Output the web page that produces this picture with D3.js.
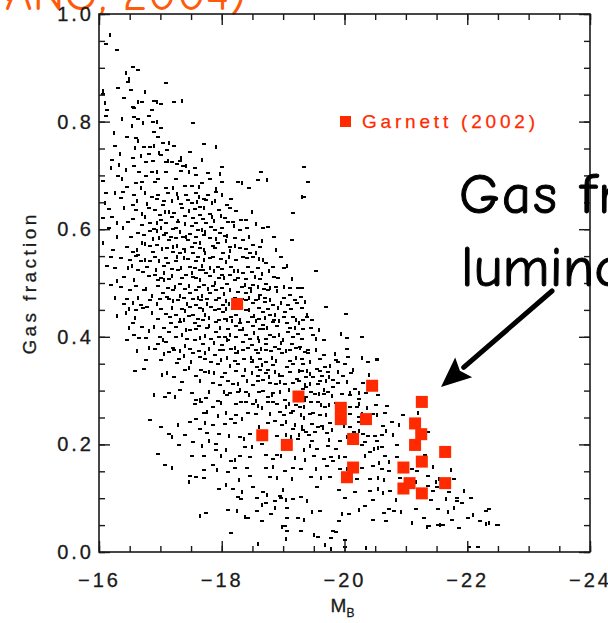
<!DOCTYPE html>
<html><head><meta charset="utf-8">
<script src="https://cdn.jsdelivr.net/npm/d3@7"></script>
<style>
html,body{margin:0;padding:0;background:#fff;overflow:hidden}
svg{display:block}
</style></head><body>
<svg id="c" width="608" height="623"></svg>
<script>
// Axis ticks
const xMajor = [-16, -18, -20, -22, -24];
const yMajor = [0, 0.2, 0.4, 0.6, 0.8, 1.0];

// Garnett (2002) spirals: absolute B magnitude and gas fraction
const garnettMB   = [-18.25, -19.25, -20.45, -19.94, -19.94, -20.35, -20.14, -18.66, -19.06, -20.14, -20.04,
                     -21.26, -21.15, -21.25, -21.15, -21.64, -21.26, -20.96, -21.06, -20.96, -21.26, -21.64];
const garnettFgas = [0.461, 0.289, 0.309, 0.268, 0.247, 0.247, 0.210, 0.217, 0.199, 0.157, 0.139,
                     0.279, 0.239, 0.219, 0.199, 0.186, 0.168, 0.157, 0.128, 0.118, 0.109, 0.128];

// Model galaxies: [M_B, gas fraction]
const sample = [
[-16.19,.963],[-16.11,.944],[-16.29,.933],[-16.44,.892],[-16.54,.901],[-16.62,.896],[-16.49,.881],[-16.47,.873],[-17.09,.871],
[-16.08,.858],[-16.05,.851],[-16.51,.858],[-16.11,.836],[-16.54,.828],[-16.57,.826],[-16.65,.838],[-16.69,.836],[-16.88,.838],
[-16.96,.838],[-17.00,.832],[-17.21,.836],[-17.36,.840],[-16.13,.821],[-16.11,.810],[-16.39,.806],[-16.57,.808],[-16.62,.804],
[-16.73,.800],[-16.80,.810],[-16.87,.799],[-16.96,.802],[-17.00,.789],[-16.88,.780],[-16.54,.793],[-17.53,.797],[-16.60,.769],
[-16.64,.765],[-17.04,.761],[-16.26,.754],[-16.60,.752],[-16.73,.752],[-16.83,.752],[-16.90,.756],[-17.21,.754],[-17.71,.759],
[-17.91,.754],[-17.47,.744],[-16.20,.729],[-16.34,.722],[-16.54,.733],[-16.57,.718],[-16.69,.737],[-16.75,.724],[-16.87,.726],
[-16.98,.743],[-17.00,.737],[-17.08,.724],[-17.14,.729],[-17.18,.724],[-17.26,.722],[-17.34,.735],[-17.31,.726],[-17.36,.718],
[-17.68,.731],[-17.99,.716],[-19.33,.715],[-16.20,.715],[-16.65,.707],[-16.85,.707],[-16.96,.709],[-17.09,.707],[-17.32,.709],
[-17.47,.709],[-17.57,.701],[-17.76,.705],[-17.98,.705],[-18.63,.707],[-19.40,.687],[-16.39,.696],[-16.60,.685],[-16.69,.687],
[-16.70,.679],[-16.96,.694],[-17.09,.677],[-17.22,.679],[-17.39,.681],[-17.50,.681],[-17.63,.681],[-17.67,.685],[-17.80,.694],
[-17.91,.677],[-17.99,.688],[-18.25,.688],[-18.33,.688],[-18.43,.677],[-18.58,.692],[-18.74,.694],[-16.44,.679],
[-16.30,.862],[-16.75,.857],[-16.40,.843],[-16.85,.822],[-16.25,.781],[-16.45,.772],[-16.95,.771],[-16.35,.741],[-16.80,.739],
[-17.10,.748],[-16.45,.711],[-16.76,.698],[-17.25,.694],[-17.42,.719],[-16.90,.688],[-17.55,.713],[-17.15,.763],[-16.30,.698],
[-16.11,.667],[-16.27,.670],[-16.38,.670],[-16.57,.664],[-16.76,.670],[-16.95,.664],[-17.12,.667],[-17.28,.668],[-17.41,.664],
[-17.57,.667],[-17.63,.661],[-17.77,.664],[-17.90,.670],[-18.02,.666],[-19.33,.660],
[-16.54,.645],[-16.79,.649],[-16.93,.656],[-17.03,.645],[-17.20,.655],[-17.33,.647],[-17.50,.649],[-17.61,.652],[-17.63,.642],
[-17.74,.655],[-17.90,.655],[-18.07,.645],[-19.16,.630],
[-16.71,.630],[-16.90,.636],[-16.98,.627],[-17.09,.633],[-17.22,.630],[-17.39,.624],[-17.47,.636],[-17.63,.627],[-17.80,.629],
[-17.99,.627],[-18.23,.633],[-18.39,.618],[-16.30,.614],[-16.46,.614],
[-16.82,.611],[-16.95,.614],[-17.09,.611],[-17.28,.614],[-17.41,.611],[-17.58,.611],[-17.74,.611],[-17.88,.618],[-18.10,.614],
[-18.18,.614],[-18.56,.611],
[-16.63,.593],[-16.82,.596],[-16.95,.599],[-17.09,.593],[-17.20,.600],[-17.33,.596],[-17.47,.591],[-17.61,.599],[-17.74,.596],
[-17.88,.599],[-17.96,.593],[-18.10,.590],[-18.29,.599],[-18.67,.602],[-16.98,.586],[-17.17,.586],[-17.36,.586],
[-16.76,.574],[-16.93,.571],[-17.14,.580],[-17.28,.571],[-17.44,.580],[-17.55,.574],[-17.66,.577],[-17.80,.583],[-17.93,.574],
[-18.07,.580],[-18.34,.580],[-18.50,.571],[-18.67,.580],[-19.13,.580],[-16.54,.558],[-16.71,.577],
[-16.63,.552],[-16.87,.558],[-17.03,.565],[-17.20,.558],[-17.31,.555],[-17.41,.562],[-17.52,.555],[-17.63,.565],[-17.74,.558],
[-17.88,.565],[-18.01,.555],[-18.15,.562],[-18.29,.565],[-18.45,.555],[-18.56,.558],[-16.19,.549],[-16.49,.543],
[-16.54,.534],[-16.68,.540],[-16.82,.540],[-16.98,.543],[-17.12,.537],[-17.25,.540],[-17.39,.549],[-17.47,.530],[-17.58,.540],
[-17.69,.534],[-17.80,.546],[-17.93,.530],[-18.07,.540],[-18.23,.543],[-18.34,.549],[-18.61,.546],[-18.72,.537],[-18.83,.530],
[-19.07,.534],
[-16.71,.521],[-16.90,.515],[-17.06,.521],[-17.28,.524],[-17.41,.515],[-17.52,.521],[-17.63,.524],[-17.74,.518],[-17.88,.524],
[-17.99,.515],[-18.12,.515],[-18.20,.524],[-18.34,.518],[-18.48,.521],[-18.67,.518],[-18.91,.509],
[-16.95,.506],[-17.06,.507],[-17.14,.507],[-17.31,.499],[-17.47,.496],[-17.58,.509],[-17.71,.496],[-17.90,.502],[-18.07,.499],
[-18.20,.506],[-18.39,.499],[-18.50,.496],[-18.72,.499],[-18.80,.493],[-19.10,.490],[-19.24,.490],
[-16.27,.474],[-16.49,.487],[-16.73,.487],[-16.87,.478],[-17.03,.481],[-17.20,.487],[-17.33,.478],[-17.47,.481],[-17.58,.487],
[-17.69,.478],[-17.80,.481],[-17.90,.487],[-18.04,.481],[-18.26,.484],[-18.39,.481],[-18.48,.487],[-18.61,.478],[-18.75,.487],
[-18.91,.487],[-19.10,.478],[-19.29,.474],
[-16.57,.465],[-16.68,.459],[-16.82,.468],[-16.95,.462],[-17.14,.471],[-17.28,.468],[-17.44,.462],[-17.58,.459],[-17.66,.468],
[-17.77,.462],[-17.90,.468],[-18.01,.459],[-18.12,.462],[-18.39,.468],[-18.50,.462],[-18.61,.474],[-18.69,.465],[-18.83,.459],
[-18.97,.465],[-19.07,.459],[-19.21,.462],
[-16.44,.446],[-16.60,.450],[-16.71,.453],[-16.87,.446],[-17.09,.443],[-17.25,.440],[-17.41,.450],[-17.52,.440],[-17.63,.453],
[-17.74,.443],[-17.88,.450],[-18.01,.446],[-18.10,.434],[-18.23,.440],[-18.39,.450],[-18.53,.440],[-18.67,.446],[-18.78,.440],
[-18.88,.443],[-19.02,.446],[-19.16,.437],[-19.27,.428],
[-17.17,.425],[-17.31,.428],[-17.39,.434],[-17.55,.425],[-17.69,.431],[-17.80,.422],[-17.90,.428],[-18.04,.434],[-18.18,.431],
[-18.29,.425],[-18.42,.428],[-18.56,.431],[-18.67,.422],[-18.83,.428],[-18.94,.431],[-19.05,.425],[-19.32,.415],[-16.49,.418],
[-16.57,.403],[-16.65,.397],[-16.82,.412],[-16.98,.400],[-17.14,.409],[-17.36,.406],[-17.47,.412],[-17.58,.415],[-17.74,.403],
[-17.90,.409],[-18.04,.400],[-18.15,.406],[-18.29,.412],[-18.39,.403],[-18.53,.409],[-18.67,.415],[-18.78,.403],[-18.94,.406],
[-19.07,.409],[-19.24,.406],
[-16.82,.381],[-16.95,.387],[-17.09,.390],[-17.41,.384],[-17.55,.394],[-17.69,.387],[-17.88,.390],[-17.99,.384],[-18.10,.394],
[-18.23,.381],[-18.34,.390],[-18.48,.384],[-18.61,.394],[-18.72,.387],[-18.86,.381],[-18.97,.390],[-19.13,.387],[-19.27,.381],
[-17.06,.369],[-17.14,.372],[-17.22,.375],[-17.39,.366],[-17.52,.369],[-17.63,.362],[-17.74,.372],[-17.88,.366],[-17.96,.375],
[-18.10,.362],[-18.23,.369],[-18.34,.375],[-18.48,.362],[-18.59,.369],[-18.72,.375],[-18.83,.362],[-18.97,.369],[-19.10,.375],
[-19.21,.362],[-19.35,.372],
[-16.73,.341],[-17.03,.330],[-17.21,.326],[-17.26,.351],[-17.47,.344],[-17.58,.328],[-17.66,.338],[-17.88,.335],[-17.93,.350],
[-17.99,.325],[-18.15,.347],[-18.26,.350],[-18.34,.328],[-18.39,.341],[-18.48,.353],[-18.56,.344],[-18.67,.350],[-18.75,.338],
[-18.83,.347],[-18.94,.331],[-19.05,.344],[-19.16,.350],[-19.27,.338],[-19.37,.325],[-18.59,.328],[-18.78,.328],[-18.97,.328],
[-19.21,.322],
[-16.90,.294],[-17.06,.289],[-17.14,.295],[-17.25,.290],[-17.31,.302],[-17.58,.283],[-17.66,.285],[-17.74,.287],[-17.96,.310],
[-18.04,.300],[-18.07,.291],[-18.18,.313],[-18.31,.303],[-18.39,.297],[-18.50,.310],[-18.56,.282],[-18.67,.300],[-18.75,.288],
[-18.83,.294],[-18.88,.313],[-19.02,.282],[-19.10,.303],[-19.32,.303],[-19.37,.288],[-18.42,.319],[-18.67,.319],[-19.02,.313],
[-19.37,.313],
[-16.82,.246],[-17.66,.279],[-17.77,.263],[-17.85,.269],[-17.93,.280],[-18.07,.260],[-18.15,.247],[-18.23,.254],[-18.34,.249],
[-18.39,.279],[-18.50,.275],[-18.67,.269],[-18.83,.279],[-18.94,.260],[-19.05,.272],[-19.16,.263],[-19.27,.269],[-19.35,.251],
[-17.47,.241],[-17.58,.247],[-17.74,.241],[-18.04,.238],[-18.86,.244],[-19.05,.244],
[-17.01,.232],[-17.14,.219],[-17.20,.216],[-17.52,.204],[-17.63,.229],[-17.80,.208],[-17.95,.219],[-18.29,.213],[-18.37,.212],
[-18.45,.219],[-19.16,.229],[-19.27,.219],[-19.24,.210],[-19.32,.226],[-19.13,.216],
[-16.95,.183],[-17.06,.162],[-17.69,.198],[-17.71,.179],[-17.90,.190],[-18.07,.191],[-18.29,.179],[-18.37,.196],[-18.23,.173],
[-18.72,.180],[-18.83,.172],[-18.97,.180],[-18.15,.170],
[-17.47,.142],[-17.48,.132],[-17.58,.139],[-17.71,.152],[-17.93,.154],[-18.10,.148],[-18.20,.156],[-18.29,.135],[-18.72,.157],
[-18.78,.139],[-18.91,.139],[-19.02,.151],[-19.29,.154],
[-18.07,.126],[-18.18,.117],[-18.26,.103],[-18.34,.114],[-18.56,.101],[-18.67,.111],[-18.75,.107],[-18.86,.095],[-18.94,.104],
[-19.05,.098],[-19.16,.099],[-19.29,.103],
[-17.66,.069],[-17.74,.073],[-18.10,.078],[-18.39,.067],[-18.42,.063],[-18.56,.076],[-18.67,.089],[-18.72,.092],[-18.80,.071],
[-18.88,.083],[-19.24,.064],[-18.15,.036],[-18.99,.048],[-19.29,.039],[-19.05,.064],
[-19.32,.661],[-19.53,.523],[-19.27,.490],[-19.36,.467],[-19.69,.455],[-20.02,.443],[-19.40,.442],[-19.32,.431],[-19.47,.432],
[-19.60,.414],[-19.48,.403],[-19.65,.394],[-19.95,.407],[-20.03,.397],[-20.27,.400],[-19.29,.381],[-19.40,.369],[-19.65,.366],
[-19.86,.369],[-20.03,.378],[-20.05,.362],[-20.30,.362],[-20.52,.359],
[-19.32,.350],[-19.40,.338],[-19.54,.341],[-19.67,.344],[-19.78,.347],[-19.89,.353],[-20.00,.350],[-20.14,.341],[-20.38,.353],
[-20.52,.356],[-20.41,.331],[-19.48,.325],[-19.62,.328],[-19.75,.328],[-19.97,.328],[-19.56,.313],[-19.70,.319],[-19.81,.319],
[-19.37,.307],[-19.67,.303],[-19.81,.307],[-20.16,.303],[-20.24,.297],[-19.51,.294],[-19.65,.294],[-19.81,.291],[-20.08,.291],
[-20.22,.285],[-19.37,.285],[-20.68,.272],[-20.54,.291],
[-19.35,.272],[-19.56,.279],[-19.67,.269],[-19.75,.275],[-20.08,.269],[-20.19,.269],[-20.38,.269],[-19.43,.257],[-19.59,.254],
[-19.70,.257],[-20.08,.257],[-20.22,.251],[-20.54,.257],[-20.76,.241],[-20.95,.254],[-21.20,.260],[-21.36,.223],[-20.22,.241],
[-19.32,.235],[-19.46,.238],[-19.56,.232],[-19.65,.232],[-19.37,.223],[-19.51,.223],[-19.81,.229],[-20.08,.232],[-20.14,.223],
[-20.24,.226],[-20.38,.216],[-20.49,.216],[-20.68,.226],[-19.92,.207],[-19.46,.207],[-19.75,.210],[-20.52,.207],[-20.33,.204],
[-19.35,.192],[-19.54,.192],[-19.86,.192],[-20.49,.193],[-20.60,.195],[-20.41,.185],[-19.92,.179],[-19.78,.176],[-19.81,.170],
[-19.37,.173],[-19.65,.173],[-20.65,.179],[-20.73,.170],[-20.27,.198],
[-19.29,.154],[-19.54,.157],[-19.92,.154],[-20.27,.157],[-20.57,.167],[-20.60,.154],[-20.71,.151],[-19.62,.139],[-19.75,.139],
[-20.41,.135],[-20.65,.135],[-21.09,.154],[-21.17,.151],[-21.74,.154],
[-20.16,.111],[-20.41,.114],[-20.63,.111],[-20.73,.113],[-20.90,.126],[-21.17,.132],[-21.36,.123],[-21.44,.114],[-21.50,.132],
[-21.77,.135],[-21.69,.111],[-21.66,.101],[-21.82,.101],[-21.82,.095],
[-19.48,.076],[-20.33,.086],[-20.06,.070],[-19.97,.073],[-20.63,.073],[-20.71,.080],[-20.93,.076],[-21.28,.064],[-21.52,.080],
[-21.80,.083],[-21.90,.092],[-22.01,.064],[-22.10,.070],[-22.29,.076],[-22.20,.058],
[-21.36,.048],[-21.52,.051],[-21.60,.051],[-22.37,.055],[-22.50,.051],[-19.81,.039],[-19.51,.033],[-21.85,.045],
[-18.14,.035],[-18.60,.017],[-19.02,.049],[-19.05,.039],[-19.05,.026],[-19.28,.039],[-19.56,.028],[-19.69,.015],[-19.77,.026],
[-19.85,.037],[-19.79,.008],[-20.00,.022],[-20.00,.010],[-20.36,.010],[-20.67,.058],[-21.37,.049],[-21.57,.052],[-22.02,.010],
[-22.17,.010],[-22.32,.054],[-22.48,.050],
// denser core of the distribution
[-16.35,.658],[-16.62,.655],[-16.85,.660],[-17.05,.653],[-17.30,.659],[-17.45,.654],[-17.70,.657],[-17.85,.651],[-18.15,.656],
[-16.15,.638],[-16.42,.641],[-16.60,.635],[-16.80,.639],[-17.15,.634],[-17.35,.640],[-17.55,.637],[-17.72,.642],[-17.95,.636],
[-18.12,.639],[-18.50,.634],
[-16.20,.622],[-16.55,.619],[-16.75,.624],[-17.00,.618],[-17.18,.623],[-17.30,.617],[-17.52,.621],[-17.68,.619],[-17.85,.625],
[-18.05,.620],[-18.30,.617],
[-16.40,.604],[-16.70,.607],[-16.88,.601],[-17.02,.605],[-17.25,.602],[-17.50,.606],[-17.68,.601],[-17.82,.605],[-18.00,.603],
[-18.20,.607],[-18.40,.602],[-18.75,.605],
[-16.30,.588],[-16.52,.585],[-16.72,.590],[-16.88,.584],[-17.05,.589],[-17.25,.583],[-17.42,.588],[-17.58,.585],[-17.70,.589],
[-17.92,.584],[-18.05,.588],[-18.20,.583],[-18.45,.588],[-18.85,.585],
[-16.45,.567],[-16.62,.563],[-16.82,.568],[-17.10,.565],[-17.22,.569],[-17.38,.563],[-17.50,.567],[-17.72,.564],[-17.85,.569],
[-18.12,.566],[-18.22,.570],[-18.38,.563],[-18.62,.567],[-18.90,.564],
[-16.35,.547],[-16.60,.550],[-16.76,.545],[-16.90,.549],[-17.08,.546],[-17.28,.551],[-17.45,.545],[-17.60,.548],[-17.72,.544],
[-17.85,.549],[-17.98,.545],[-18.12,.550],[-18.40,.546],[-18.50,.549],[-18.68,.544],[-18.95,.548],
[-16.25,.527],[-16.48,.530],[-16.62,.525],[-16.78,.529],[-16.93,.526],[-17.05,.531],[-17.18,.526],[-17.35,.529],[-17.55,.527],
[-17.68,.525],[-17.82,.530],[-18.00,.526],[-18.15,.529],[-18.28,.525],[-18.42,.530],[-18.58,.527],[-18.78,.524],[-19.00,.528],
[-16.40,.511],[-16.58,.508],[-16.80,.513],[-17.00,.510],[-17.20,.514],[-17.35,.509],[-17.52,.512],[-17.65,.508],[-17.80,.513],
[-17.95,.509],[-18.05,.512],[-18.25,.510],[-18.38,.508],[-18.55,.513],[-18.62,.507],[-18.85,.511],[-19.15,.509],
[-16.35,.492],[-16.60,.495],[-16.78,.490],[-16.95,.494],[-17.12,.491],[-17.25,.495],[-17.40,.489],[-17.62,.493],[-17.78,.490],
[-17.85,.494],[-18.00,.491],[-18.15,.489],[-18.32,.493],[-18.45,.491],[-18.60,.495],[-18.68,.489],[-18.88,.492],[-19.02,.495],
[-19.30,.490],
[-16.45,.471],[-16.65,.474],[-16.98,.470],[-17.10,.474],[-17.22,.469],[-17.38,.473],[-17.52,.470],[-17.62,.474],[-17.75,.471],
[-17.95,.473],[-18.08,.469],[-18.20,.472],[-18.32,.470],[-18.45,.474],[-18.55,.469],[-18.70,.472],[-18.80,.470],[-19.00,.473],
[-19.18,.469],
[-16.50,.453],[-16.78,.456],[-17.00,.452],[-17.20,.455],[-17.35,.451],[-17.48,.455],[-17.70,.452],[-17.82,.456],[-17.95,.451],
[-18.07,.454],[-18.18,.452],[-18.30,.456],[-18.45,.451],[-18.60,.454],[-18.75,.452],[-18.92,.455],[-19.12,.451],[-19.30,.454],
[-16.60,.436],[-16.95,.433],[-17.15,.437],[-17.32,.434],[-17.46,.438],[-17.60,.433],[-17.80,.436],[-17.95,.432],[-18.15,.437],
[-18.30,.434],[-18.48,.437],[-18.60,.433],[-18.72,.436],[-18.85,.432],[-19.00,.437],[-19.22,.433],[-19.38,.436],
[-16.70,.418],[-16.90,.421],[-17.05,.416],[-17.25,.419],[-17.42,.415],[-17.62,.420],[-17.75,.416],[-17.98,.419],[-18.10,.415],
[-18.22,.420],[-18.35,.417],[-18.50,.420],[-18.62,.415],[-18.75,.418],[-18.90,.421],[-19.10,.416],[-19.20,.419],[-19.45,.417],
[-16.75,.398],[-17.05,.395],[-17.25,.399],[-17.42,.396],[-17.65,.400],[-17.82,.396],[-17.95,.399],[-18.10,.395],[-18.22,.400],
[-18.45,.396],[-18.60,.399],[-18.72,.395],[-18.85,.399],[-19.00,.396],[-19.15,.400],[-19.30,.395],[-19.55,.398],
[-16.90,.377],[-17.20,.379],[-17.32,.375],[-17.48,.378],[-17.62,.374],[-17.80,.379],[-18.02,.375],[-18.15,.378],[-18.28,.374],
[-18.42,.379],[-18.55,.376],[-18.65,.379],[-18.80,.374],[-18.92,.378],[-19.05,.375],[-19.20,.379],[-19.40,.376],[-19.55,.378],
[-17.00,.357],[-17.30,.359],[-17.50,.355],[-17.72,.358],[-17.82,.354],[-18.00,.358],[-18.20,.355],[-18.35,.359],[-18.52,.356],
[-18.62,.358],[-18.72,.354],[-18.90,.357],[-19.10,.355],[-19.30,.359],[-19.45,.355],[-19.60,.358],[-19.85,.356],
[-17.12,.335],[-17.40,.338],[-17.72,.334],[-17.80,.337],[-18.05,.333],[-18.22,.337],[-18.50,.335],[-18.62,.338],[-18.72,.333],
[-18.88,.336],[-19.10,.334],[-19.30,.337],[-19.45,.333],[-19.60,.336],[-19.72,.334],[-19.90,.337],[-20.10,.333],
[-17.35,.316],[-17.65,.319],[-17.85,.314],[-18.10,.317],[-18.28,.315],[-18.58,.318],[-18.78,.314],[-18.95,.317],[-19.15,.315],
[-19.25,.318],[-19.45,.314],[-19.60,.317],[-19.88,.315],[-20.05,.318],[-20.30,.314],
[-17.50,.296],[-17.80,.299],[-18.12,.295],[-18.25,.298],[-18.45,.294],[-18.60,.297],[-18.82,.295],[-18.95,.299],[-19.20,.294],
[-19.45,.297],[-19.60,.295],[-19.72,.298],[-19.95,.294],[-20.10,.298],[-20.35,.295],
[-17.55,.276],[-18.00,.279],[-18.22,.275],[-18.30,.278],[-18.60,.274],[-18.75,.278],[-18.90,.275],[-19.10,.277],[-19.20,.274],
[-19.45,.278],[-19.62,.275],[-19.85,.277],[-19.95,.273],[-20.25,.277],[-20.50,.274],
[-17.70,.258],[-17.95,.255],[-18.42,.259],[-18.55,.256],[-18.80,.258],[-19.00,.255],[-19.12,.259],[-19.30,.256],[-19.48,.258],
[-19.90,.255],[-20.30,.259],[-20.45,.256],[-20.65,.258],
[-17.30,.238],[-17.85,.236],[-18.20,.239],[-18.62,.235],[-18.75,.239],[-18.98,.236],[-19.20,.238],[-19.62,.235],[-19.75,.239],
[-20.00,.236],[-20.35,.238],[-20.62,.235],[-20.90,.238],
[-17.40,.218],[-17.75,.221],[-18.12,.217],[-18.60,.220],[-18.90,.216],[-19.05,.219],[-19.42,.217],[-19.70,.221],[-20.05,.216],
[-20.30,.219],[-20.60,.217],[-20.80,.220],
[-17.30,.198],[-17.90,.201],[-18.50,.197],[-18.65,.200],[-19.10,.196],[-19.45,.199],[-19.72,.197],[-20.20,.200],[-20.55,.196],
[-20.85,.199],
[-17.50,.178],[-18.00,.181],[-18.45,.177],[-18.90,.180],[-19.20,.176],[-19.50,.179],[-20.00,.177],[-20.35,.181],[-20.85,.177],
[-21.30,.180],
[-17.20,.158],[-17.85,.161],[-18.40,.157],[-18.85,.160],[-19.15,.156],[-19.70,.159],[-20.05,.157],[-20.45,.160],[-20.90,.156],
[-21.45,.159],
[-17.70,.138],[-18.45,.141],[-19.15,.137],[-19.45,.140],[-20.20,.136],[-20.55,.139],[-20.90,.137],[-21.35,.141],[-21.55,.137],
[-17.95,.118],[-18.50,.121],[-19.00,.117],[-19.55,.120],[-19.90,.116],[-20.55,.119],[-20.95,.117],[-21.50,.120],[-21.95,.116],
[-18.30,.098],[-18.95,.101],[-19.40,.097],[-20.00,.100],[-20.45,.096],[-20.85,.099],[-21.40,.097],[-22.05,.100],
[-18.25,.078],[-19.05,.081],[-19.60,.077],[-20.25,.080],[-20.80,.076],[-21.15,.079],[-21.70,.077],[-22.35,.080],
[-18.65,.058],[-19.35,.061],[-19.90,.057],[-20.45,.060],[-21.10,.056],[-21.75,.059],
// faint edge along the bright end of the left axis
[-16.06,.690],[-16.10,.651],[-16.05,.621],[-16.15,.602],[-16.08,.576],[-16.22,.562],[-16.12,.531],[-16.30,.506],[-16.18,.497],
[-16.40,.461],[-16.30,.441],[-16.55,.426],[-16.45,.394],[-16.62,.376],[-16.75,.356],[-16.58,.336]
];

const svg = d3.select('#c');
const x = d3.scaleLinear().domain([-16, -24]).range([99, 590]);
const y = d3.scaleLinear().domain([0, 1]).range([552, 14]);

const axisFont = '"Liberation Sans", Arial, Helvetica, sans-serif';
const handFont = '"Comic Sans MS", "Comic Neue", "Noto Sans", sans-serif';
const ink = '#1a1a1a';

// Heading fragment running off the top edge
svg.append('text')
  .attr('x', 246).attr('y', 10)
  .attr('text-anchor', 'end')
  .attr('font-family', handFont).attr('font-size', 48)
  .attr('fill', '#ff5a0a')
  .text('(BOISSIER & WANG, 2004)');

// Model galaxies
svg.append('g').attr('shape-rendering', 'crispEdges').selectAll('rect')
  .data(sample)
  .join('rect')
  .attr('x', d => Math.round(x(d[0]) - 1.5))
  .attr('y', d => Math.round(y(d[1]) - 1))
  .attr('width', (d, i) => i % 3 === 0 ? 2 : 4)
  .attr('height', (d, i) => i % 3 === 0 ? 4 : 2)
  .attr('fill', '#000');

// Garnett squares
const sq = 12;
svg.append('g').selectAll('rect')
  .data(garnettMB.map((m, i) => [m, garnettFgas[i]]))
  .join('rect')
  .attr('x', d => x(d[0]) - sq / 2)
  .attr('y', d => y(d[1]) - sq / 2)
  .attr('width', sq).attr('height', sq)
  .attr('fill', '#ff2a00');

// Axes: major and minor ticks point inward on all four sides
function styleAxis(g) {
  g.select('.domain').remove();
  g.selectAll('line').attr('stroke', ink).attr('stroke-width', 1.4);
  g.selectAll('text').attr('font-family', axisFont).attr('font-size', 20)
    .attr('fill', '#1a1a1a').attr('letter-spacing', '3px')
    .attr('stroke', '#1a1a1a').attr('stroke-width', 0.3);
}
const xMinor = d3.range(-16, -24.01, -0.5);
const yMinor = d3.range(0, 1.001, 0.05);

svg.append('g').attr('transform', `translate(0,${y(0)})`)
  .call(d3.axisBottom(x).tickValues(xMinor).tickSize(-6).tickFormat(''))
  .call(styleAxis);
svg.append('g').attr('transform', `translate(0,${y(0)})`)
  .call(d3.axisBottom(x).tickValues(xMajor).tickSize(-11).tickPadding(21).tickFormat(d3.format('d')))
  .call(styleAxis);
svg.append('g').attr('transform', `translate(0,${y(1)})`)
  .call(d3.axisTop(x).tickValues(xMinor).tickSize(-6).tickFormat(''))
  .call(styleAxis);
svg.append('g').attr('transform', `translate(0,${y(1)})`)
  .call(d3.axisTop(x).tickValues(xMajor).tickSize(-11).tickFormat(''))
  .call(styleAxis);
svg.append('g').attr('transform', `translate(${x(-16)},0)`)
  .call(d3.axisLeft(y).tickValues(yMinor).tickSize(-6).tickFormat(''))
  .call(styleAxis);
svg.append('g').attr('transform', `translate(${x(-16)},0)`)
  .call(d3.axisLeft(y).tickValues(yMajor).tickSize(-11).tickPadding(5).tickFormat(d3.format('.1f')))
  .call(styleAxis);
svg.append('g').attr('transform', `translate(${x(-24)},0)`)
  .call(d3.axisRight(y).tickValues(yMinor).tickSize(-6).tickFormat(''))
  .call(styleAxis);
svg.append('g').attr('transform', `translate(${x(-24)},0)`)
  .call(d3.axisRight(y).tickValues(yMajor).tickSize(-11).tickFormat(''))
  .call(styleAxis);

// Plot frame
svg.append('rect')
  .attr('x', x(-16)).attr('y', y(1))
  .attr('width', x(-24) - x(-16)).attr('height', y(0) - y(1))
  .attr('fill', 'none').attr('stroke', ink).attr('stroke-width', 1.6);

// Axis titles
svg.append('text')
  .attr('transform', `translate(36,${(y(0) + y(1)) / 2}) rotate(-90)`)
  .attr('text-anchor', 'middle')
  .attr('font-family', axisFont).attr('font-size', 19).attr('letter-spacing', '3.4px')
  .attr('fill', '#1a1a1a').attr('stroke', '#1a1a1a').attr('stroke-width', 0.3)
  .text('Gas fraction');
const xt = svg.append('text')
  .attr('x', (x(-16) + x(-24)) / 2 - 2).attr('y', 612)
  .attr('text-anchor', 'middle')
  .attr('font-family', axisFont).attr('font-size', 19).attr('fill', '#1a1a1a')
  .attr('stroke', '#1a1a1a').attr('stroke-width', 0.3);
xt.append('tspan').text('M');
xt.append('tspan').attr('font-size', 12).attr('dy', 5).text('B');

// Legend
svg.append('rect').attr('x', 340).attr('y', 116).attr('width', 11).attr('height', 11).attr('fill', '#ff2a00');
svg.append('text')
  .attr('x', 362).attr('y', 128)
  .attr('font-family', axisFont).attr('font-size', 19).attr('letter-spacing', '3.8px')
  .attr('fill', '#ff2a00').attr('stroke', '#ff2a00').attr('stroke-width', 0.25)
  .text('Garnett (2002)');

// Callout
const callout = svg.append('g')
  .attr('font-family', handFont).attr('font-size', 57).attr('fill', '#000')
  .attr('stroke', '#000').attr('stroke-width', 1);
callout.append('text').attr('x', 459).attr('y', 213).attr('letter-spacing', '2px').text('Gas fraction');
callout.append('text').attr('x', 461).attr('y', 286).text('luminosity');

const tip = [441, 387], tail = [552, 291];
const ang = Math.atan2(tip[1] - tail[1], tip[0] - tail[0]);
const headLen = 30, headHalf = 13;
const base = [tip[0] - headLen * Math.cos(ang), tip[1] - headLen * Math.sin(ang)];
svg.append('line')
  .attr('x1', tail[0]).attr('y1', tail[1])
  .attr('x2', base[0]).attr('y2', base[1])
  .attr('stroke', '#000').attr('stroke-width', 5).attr('stroke-linecap', 'round');
svg.append('path')
  .attr('d', d3.line()([
    tip,
    [base[0] + headHalf * Math.sin(ang), base[1] - headHalf * Math.cos(ang)],
    [base[0] + 5 * Math.cos(ang), base[1] + 5 * Math.sin(ang)],
    [base[0] - headHalf * Math.sin(ang), base[1] + headHalf * Math.cos(ang)]
  ]) + 'Z')
  .attr('fill', '#000');
</script>
</body></html>
